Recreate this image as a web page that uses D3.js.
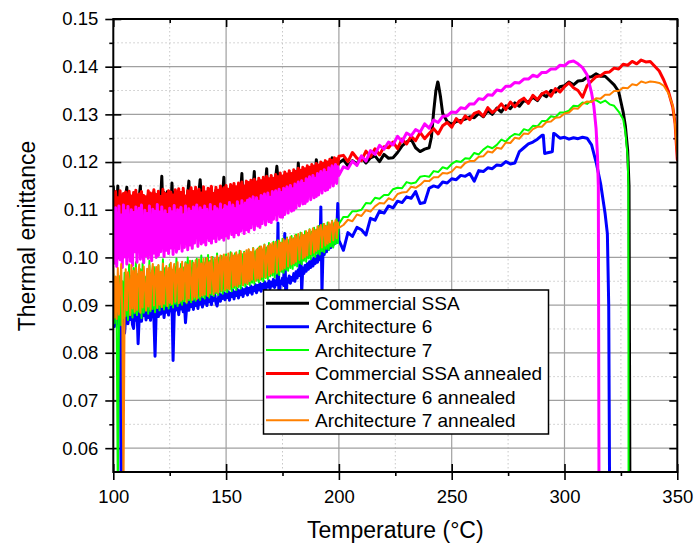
<!DOCTYPE html>
<html>
<head>
<meta charset="utf-8">
<script src="https://cdn.jsdelivr.net/npm/d3@7"></script>
<style>
  body { margin: 0; background: #fff; }
  svg { display: block; font-family: "Liberation Sans", Arial, sans-serif; }
</style>
</head>
<body>
<svg id="chart" width="694" height="547"></svg>
<script>
// ---- measurement grids (°C) ----
const tempsFine = d3.range(201).map(i => 100 + i * 0.5); // 0.5 °C steps, 100–200
const tempsCoarse = d3.range(202, 349, 2);                // 2 °C steps, 202–348

// ---- axis ticks ----
const xMajor = [100, 150, 200, 250, 300, 350];
const xMinor = [125, 175, 225, 275, 325];
const yMajor = [0.06, 0.07, 0.08, 0.09, 0.10, 0.11, 0.12, 0.13, 0.14, 0.15];
const yMinor = [0.065, 0.075, 0.085, 0.095, 0.105, 0.115, 0.125, 0.135, 0.145];
const xTickLabels = ["100", "150", "200", "250", "300", "350"];
const yTickLabels = ["0.06", "0.07", "0.08", "0.09", "0.10", "0.11", "0.12", "0.13", "0.14", "0.15"];

// ---- Commercial SSA ----
const ssaFine = [
  .1148,.1085,.1130,.1092,.1150,.1081,.1133,.1098,.1087,.1128,
  .1092,.1130,.1147,.1084,.1132,.1090,.1125,.1083,.1130,.1095,
  .1134,.1088,.1120,.1128,.1150,.1085,.1095,.1125,.1084,.1122,
  .1090,.1133,.1097,.1129,.1087,.1120,.1136,.1089,.1127,.1094,
  .1133,.1088,.1124,.1170,.1096,.1136,.1087,.1128,.1138,.1092,
  .1130,.1095,.1156,.1101,.1125,.1138,.1096,.1121,.1137,.1092,
  .1131,.1094,.1138,.1102,.1125,.1090,.1135,.1160,.1098,.1140,
  .1096,.1133,.1104,.1140,.1093,.1127,.1137,.1163,.1130,.1097,
  .1141,.1102,.1132,.1096,.1139,.1107,.1134,.1143,.1099,.1130,
  .1104,.1141,.1097,.1136,.1110,.1144,.1101,.1134,.1168,.1106,
  .1145,.1101,.1138,.1112,.1147,.1105,.1136,.1149,.1109,.1143,
  .1114,.1150,.1107,.1142,.1176,.1112,.1145,.1117,.1154,.1109,
  .1151,.1116,.1156,.1112,.1148,.1180,.1120,.1153,.1114,.1160,
  .1121,.1156,.1118,.1163,.1125,.1155,.1186,.1121,.1160,.1127,
  .1166,.1124,.1161,.1131,.1168,.1191,.1164,.1134,.1171,.1130,
  .1166,.1137,.1173,.1133,.1170,.1141,.1176,.1139,.1171,.1145,
  .1178,.1143,.1175,.1150,.1198,.1148,.1178,.1155,.1183,.1153,
  .1181,.1160,.1186,.1158,.1184,.1165,.1189,.1163,.1186,.1170,
  .1205,.1168,.1189,.1175,.1195,.1173,.1192,.1180,.1198,.1179,
  .1195,.1185,.1201,.1184,.1209,.1190,.1204,.1189,.1202,.1194,
  .1198];
const ssaCoarse = [
  .1205,.1192,.1203,.1196,.1211,.1198,.1209,.1213,.1201,.1216,
  .1208,.1209,.1220,.1234,.1242,.1248,.1230,.1222,.1227,.1230,
  .1305,.1366,.1302,.1285,.1279,.1285,.1287,.1290,.1295,.1293,
  .1302,.1295,.1308,.1300,.1313,.1305,.1318,.1312,.1324,.1317,
  .1329,.1326,.1336,.1329,.1343,.1337,.1350,.1347,.1358,.1360,
  .1368,.1362,.1370,.1371,.1378,.1379,.1385,.1380,.1380,.1371,
  .1362,.1348,.1305,.1225];
const ssaExtra = [[241, .1252], [243, .1350], [243.8, .1368], [245, .1338],
  [327, .1275], [328.6, .1150], [329, .050]];

// ---- Architecture 6 ----
const arch6Fine = [
  .0888,.0855,.0880,.0862,.0891,.0852,.0878,.0500,.0858,.0884,
  .0841,.0876,.0890,.0861,.0885,.0870,.0893,.0859,.0851,.0887,
  .0868,.0892,.0819,.0875,.0895,.0866,.0889,.0878,.0897,.0869,
  .0893,.0874,.0899,.0868,.0886,.0896,.0872,.0793,.0883,.0898,
  .0876,.0900,.0881,.0894,.0902,.0874,.0897,.0885,.0903,.0879,
  .0899,.0888,.0905,.0784,.0882,.0901,.0890,.0906,.0880,.0903,
  .0892,.0908,.0886,.0904,.0863,.0895,.0910,.0889,.0907,.0897,
  .0912,.0891,.0909,.0899,.0914,.0893,.0911,.0902,.0916,.0896,
  .0913,.0904,.0918,.0899,.0915,.0907,.0920,.0901,.0917,.0910,
  .0922,.0905,.0898,.0912,.0924,.0908,.0921,.0914,.0926,.0911,
  .0923,.0916,.0928,.0910,.0925,.0918,.0931,.0913,.0927,.0920,
  .0933,.0915,.0930,.0922,.0935,.0918,.0932,.0925,.0938,.0921,
  .0935,.0927,.0940,.0923,.0937,.0930,.0943,.0926,.0941,.0932,
  .0946,.0929,.0943,.0935,.0949,.0932,.0945,.0938,.0951,.0935,
  .0948,.0940,.0954,.0937,.0951,.0943,.1072,.0880,.0950,.0945,
  .0957,.0941,.1050,.0890,.0955,.0948,.0961,.0946,.0958,.0952,
  .0966,.0950,.0970,.0957,.0974,.0962,.1036,.0925,.0978,.0966,
  .0983,.0971,.0987,.0975,.0991,.0979,.0995,.0982,.0999,.0987,
  .1003,.0990,.1008,.0995,.1106,.0925,.1022,.1006,.1027,.1012,
  .1031,.1017,.1036,.1021,.1040,.1026,.1044,.1030,.1048,.1113,
  .1036];
const arch6Coarse = [
  .1015,.1052,.1044,.1063,.1058,.1047,.1082,.1078,.1097,.1093,
  .1108,.1104,.1118,.1115,.1127,.1124,.1138,.1113,.1115,.1145,
  .1150,.1147,.1158,.1156,.1165,.1163,.1172,.1170,.1176,.1160,
  .1182,.1180,.1188,.1186,.1194,.1193,.1201,.1196,.1198,.1222,
  .1230,.1238,.1242,.1248,.1256,.1219,.1221,.1258,.1250,.1252,
  .1248,.1251,.1249,.1252,.1250,.1236,.1200,.1155,.1092];
const arch6Extra = [[290.6, .1256], [291.2, .1218], [294.6, .1222], [295.2, .1260],
  [319, .1050], [319.6, .0900], [320, .050]];

// ---- Architecture 7 ----
const arch7Fine = [
  .0965,.0862,.0958,.0866,.0500,.0870,.0961,.0858,.0950,.0873,
  .0968,.0877,.0954,.0869,.0985,.0880,.0962,.0874,.0978,.0883,
  .0990,.0879,.0965,.0886,.0975,.0873,.0988,.0884,.0960,.0890,
  .0972,.0882,.0993,.0887,.0968,.0892,.0980,.0885,.0975,.0894,
  .0983,.0889,.0970,.0896,.0996,.0891,.0978,.0898,.0965,.0893,
  .0985,.0900,.0974,.0895,.0981,.0903,.0998,.0898,.0972,.0905,
  .0986,.0901,.0979,.0908,.0990,.0904,.1000,.0910,.0982,.0906,
  .0993,.0912,.0984,.0909,.0997,.0915,.0987,.0911,.1004,.0917,
  .0990,.0914,.0998,.0920,.1005,.0916,.0993,.0922,.1001,.0919,
  .0995,.0925,.1008,.0921,.0999,.0928,.1003,.0924,.0997,.0930,
  .1006,.0927,.1000,.0933,.1011,.0929,.1004,.0936,.1009,.0932,
  .1002,.0938,.1014,.0935,.1007,.0941,.1012,.0939,.1005,.0944,
  .1016,.0942,.1010,.0947,.1020,.0945,.1013,.0951,.1018,.0948,
  .1023,.0953,.1016,.0950,.1027,.0957,.1021,.0955,.1030,.0960,
  .1025,.0962,.1033,.0958,.1028,.0966,.1036,.0963,.1031,.0970,
  .1039,.0968,.1034,.0974,.1042,.0972,.1037,.0978,.1045,.0976,
  .1040,.0983,.1048,.0981,.1044,.0988,.1052,.0986,.1047,.0993,
  .1055,.0991,.1051,.0998,.1059,.0996,.1054,.1003,.1062,.1001,
  .1058,.1008,.1066,.1006,.1062,.1013,.1070,.1011,.1066,.1018,
  .1073,.1016,.1069,.1023,.1077,.1021,.1072,.1028,.1080,.1030,
  .1070];
const arch7Coarse = [
  .1085,.1085,.1097,.1097,.1100,.1114,.1113,.1125,.1123,.1131,
  .1131,.1143,.1146,.1145,.1158,.1155,.1157,.1169,.1171,.1169,
  .1181,.1179,.1189,.1186,.1196,.1202,.1200,.1208,.1207,.1219,
  .1216,.1226,.1233,.1229,.1236,.1247,.1243,.1253,.1259,.1257,
  .1269,.1266,.1276,.1275,.1286,.1286,.1296,.1294,.1304,.1304,
  .1308,.1318,.1317,.1325,.1322,.1329,.1330,.1324,.1329,.1321,
  .1318,.1306,.1290,.1210];
const arch7Extra = [[327, .1262], [328.3, .1150], [328.4, .050]];

// ---- Commercial SSA annealed ----
const ssaAnnFine = [
  .1131,.1082,.1138,.1090,.1125,.1079,.1140,.1101,.1085,.1134,
  .1094,.1137,.1081,.1120,.1139,.1088,.1129,.1080,.1136,.1097,
  .1141,.1085,.1124,.1133,.1083,.1138,.1092,.1130,.1081,.1127,
  .1089,.1140,.1098,.1135,.1084,.1123,.1142,.1087,.1132,.1093,
  .1139,.1086,.1128,.1095,.1143,.1090,.1134,.1083,.1126,.1140,
  .1088,.1137,.1099,.1131,.1085,.1142,.1093,.1125,.1144,.1089,
  .1136,.1091,.1145,.1100,.1129,.1087,.1140,.1096,.1133,.1146,
  .1092,.1138,.1102,.1147,.1090,.1131,.1143,.1098,.1135,.1094,
  .1148,.1100,.1137,.1093,.1145,.1105,.1139,.1149,.1096,.1134,
  .1102,.1147,.1094,.1141,.1108,.1150,.1099,.1138,.1146,.1104,
  .1151,.1098,.1143,.1110,.1153,.1102,.1140,.1155,.1107,.1148,
  .1112,.1156,.1104,.1146,.1158,.1109,.1150,.1115,.1160,.1106,
  .1157,.1113,.1162,.1108,.1153,.1164,.1117,.1158,.1111,.1166,
  .1119,.1161,.1115,.1168,.1122,.1159,.1170,.1118,.1165,.1125,
  .1172,.1121,.1166,.1128,.1174,.1124,.1169,.1131,.1177,.1127,
  .1171,.1134,.1179,.1130,.1175,.1138,.1182,.1136,.1176,.1142,
  .1184,.1140,.1180,.1147,.1187,.1145,.1183,.1152,.1189,.1150,
  .1186,.1157,.1192,.1155,.1189,.1162,.1195,.1160,.1191,.1167,
  .1197,.1165,.1194,.1172,.1200,.1170,.1197,.1177,.1203,.1176,
  .1200,.1182,.1206,.1181,.1204,.1187,.1209,.1186,.1207,.1192,
  .1212];
const ssaAnnCoarse = [
  .1214,.1201,.1220,.1208,.1203,.1223,.1211,.1228,.1215,.1232,
  .1230,.1242,.1228,.1248,.1238,.1254,.1245,.1262,.1249,.1260,
  .1270,.1259,.1276,.1283,.1273,.1291,.1282,.1297,.1289,.1302,
  .1306,.1296,.1314,.1304,.1311,.1322,.1310,.1326,.1316,.1328,
  .1334,.1323,.1340,.1331,.1343,.1348,.1338,.1354,.1347,.1358,
  .1366,.1356,.1350,.1336,.1360,.1370,.1379,.1381,.1388,.1389,
  .1397,.1395,.1405,.1403,.1411,.1406,.1414,.1410,.1411,.1401,
  .1391,.1372,.1349,.1315];
const ssaAnnExtra = [[349, .1282], [350, .1205]];

// ---- Architecture 6 annealed ----
const arch6AnnFine = [
  .1096,.0988,.1104,.0981,.1052,.1108,.0995,.1089,.0979,.1110,
  .1001,.1098,.0986,.1107,.1043,.0992,.1100,.0983,.1094,.1012,
  .1106,.0990,.1085,.1103,.0996,.1110,.1024,.0989,.1099,.1004,
  .1092,.0998,.1108,.1035,.0993,.1101,.1009,.1097,.1000,.1111,
  .1004,.1095,.1012,.1106,.1060,.1002,.1098,.1015,.1090,.1008,
  .1103,.1020,.1096,.1006,.1109,.1047,.1011,.1100,.1018,.1093,
  .1105,.1013,.1089,.1021,.1108,.1058,.1016,.1102,.1026,.1097,
  .1019,.1106,.1030,.1094,.1110,.1023,.1070,.1104,.1028,.1099,
  .1032,.1108,.1026,.1101,.1065,.1035,.1111,.1030,.1096,.1040,
  .1107,.1033,.1102,.1080,.1038,.1112,.1042,.1099,.1036,.1109,
  .1045,.1106,.1040,.1115,.1083,.1048,.1110,.1043,.1102,.1052,
  .1117,.1047,.1108,.1055,.1119,.1090,.1050,.1114,.1058,.1120,
  .1054,.1123,.1062,.1110,.1127,.1058,.1098,.1125,.1066,.1118,
  .1063,.1130,.1071,.1122,.1133,.1068,.1110,.1135,.1075,.1126,
  .1073,.1138,.1080,.1131,.1140,.1078,.1120,.1143,.1085,.1136,
  .1084,.1145,.1090,.1138,.1148,.1093,.1128,.1151,.1097,.1144,
  .1099,.1154,.1104,.1146,.1158,.1108,.1140,.1161,.1112,.1155,
  .1113,.1165,.1118,.1157,.1169,.1121,.1152,.1172,.1125,.1166,
  .1128,.1176,.1131,.1168,.1180,.1135,.1163,.1184,.1140,.1178,
  .1142,.1188,.1147,.1179,.1192,.1150,.1175,.1195,.1155,.1190,
  .1172];
const arch6AnnCoarse = [
  .1190,.1186,.1202,.1193,.1213,.1202,.1224,.1216,.1235,.1227,
  .1242,.1236,.1254,.1243,.1261,.1255,.1268,.1263,.1280,.1271,
  .1288,.1283,.1296,.1297,.1305,.1304,.1314,.1312,.1322,.1322,
  .1333,.1331,.1341,.1340,.1351,.1349,.1359,.1359,.1367,.1366,
  .1374,.1374,.1382,.1379,.1388,.1388,.1395,.1395,.1403,.1402,
  .1410,.1412,.1406,.1398,.1383,.1345,.1270];
const arch6AnnExtra = [[313, .1318], [314.6, .1215], [315, .1150], [315.3, .050]];

// ---- Architecture 7 annealed ----
const arch7AnnFine = [
  .0982,.0874,.0960,.0871,.0978,.0880,.0935,.0986,.0877,.0500,
  .0883,.0975,.0889,.0969,.0950,.0879,.0984,.0893,.0972,.0886,
  .0978,.0890,.0962,.0985,.0884,.0970,.0895,.0981,.0940,.0888,
  .0976,.0897,.0983,.0891,.0966,.0986,.0899,.0958,.0980,.0894,
  .0984,.0901,.0970,.0896,.0987,.0903,.0955,.0982,.0898,.0978,
  .0905,.0989,.0902,.0973,.0986,.0907,.0962,.0990,.0904,.0977,
  .0909,.0991,.0912,.0968,.0988,.0906,.0985,.0914,.0993,.0950,
  .0911,.0989,.0917,.0994,.0913,.0975,.0996,.0918,.0987,.0920,
  .0997,.0922,.0982,.0999,.0919,.0990,.0925,.1001,.0960,.0923,
  .0998,.0928,.1003,.0926,.0985,.1004,.0930,.0995,.1006,.0932,
  .1002,.0935,.1008,.0933,.0990,.1009,.0938,.1004,.0941,.1011,
  .0939,.1006,.0944,.1013,.0975,.0942,.1010,.0947,.1015,.0945,
  .1017,.0950,.1012,.0953,.1019,.0985,.0951,.1016,.0956,.1021,
  .0954,.1023,.0959,.1018,.1026,.0958,.1000,.1024,.0962,.1028,
  .0966,.1030,.0969,.1025,.1033,.0968,.1015,.1035,.0972,.1031,
  .0975,.1038,.0978,.1034,.1040,.0981,.1025,.1043,.0985,.1039,
  .0988,.1046,.0991,.1042,.1049,.0995,.1035,.1051,.0998,.1047,
  .1001,.1055,.1004,.1050,.1058,.1007,.1045,.1061,.1010,.1057,
  .1014,.1065,.1017,.1060,.1068,.1021,.1055,.1070,.1025,.1066,
  .1029,.1073,.1032,.1068,.1076,.1036,.1062,.1078,.1040,.1074,
  .1062];
const arch7AnnCoarse = [
  .1068,.1079,.1076,.1090,.1087,.1099,.1096,.1107,.1114,.1113,
  .1124,.1120,.1133,.1136,.1137,.1148,.1146,.1152,.1161,.1160,
  .1168,.1168,.1177,.1176,.1180,.1190,.1188,.1198,.1202,.1202,
  .1211,.1212,.1222,.1220,.1230,.1228,.1241,.1240,.1251,.1249,
  .1260,.1259,.1269,.1274,.1274,.1284,.1285,.1293,.1294,.1302,
  .1304,.1313,.1312,.1322,.1327,.1326,.1334,.1333,.1341,.1341,
  .1349,.1349,.1356,.1355,.1363,.1361,.1369,.1366,.1369,.1368,
  .1366,.1360,.1345,.1318];
const arch7AnnExtra = [[349, .1278], [350, .1212]];

// ---- legend entries (drawing order) ----
const seriesNames = ["Commercial SSA", "Architecture 6", "Architecture 7",
  "Commercial SSA annealed", "Architecture 6 annealed", "Architecture 7 annealed"];
const seriesColors = ["#000000", "#0000ff", "#00ff00", "#ff0000", "#ff00ff", "#ff8000"];
const seriesWidths = [3, 3, 2, 3, 3, 2];

function assemble(fine, coarse, extra) {
  const pts = fine.map((v, i) => [tempsFine[i], v])
    .concat(coarse.map((v, i) => [tempsCoarse[i], v]))
    .concat(extra);
  return pts.sort((a, b) => a[0] - b[0]);
}

const series = [
  assemble(ssaFine, ssaCoarse, ssaExtra),
  assemble(arch6Fine, arch6Coarse, arch6Extra),
  assemble(arch7Fine, arch7Coarse, arch7Extra),
  assemble(ssaAnnFine, ssaAnnCoarse, ssaAnnExtra),
  assemble(arch6AnnFine, arch6AnnCoarse, arch6AnnExtra),
  assemble(arch7AnnFine, arch7AnnCoarse, arch7AnnExtra)
];

// ---- layout ----
const plot = { left: 113.3, right: 677.3, top: 19, bottom: 472 };
const x = d3.scaleLinear().domain([100, 350]).range([plot.left, plot.right]);
const y = d3.scaleLinear().domain([0.055, 0.15]).range([plot.bottom, plot.top]);

const svg = d3.select("#chart");

svg.append("defs").append("clipPath").attr("id", "plotClip")
  .append("rect")
  .attr("x", plot.left).attr("y", plot.top)
  .attr("width", plot.right - plot.left).attr("height", plot.bottom - plot.top);

// grid: dotted minor, solid major
const grid = svg.append("g");
grid.selectAll("line.vmin").data(xMinor).join("line")
  .attr("x1", d => x(d)).attr("x2", d => x(d))
  .attr("y1", plot.top).attr("y2", plot.bottom)
  .attr("stroke", "#c8c8c8").attr("stroke-width", 1).attr("stroke-dasharray", "1.5,2.5");
grid.selectAll("line.hmin").data(yMinor).join("line")
  .attr("x1", plot.left).attr("x2", plot.right)
  .attr("y1", d => y(d)).attr("y2", d => y(d))
  .attr("stroke", "#c8c8c8").attr("stroke-width", 1).attr("stroke-dasharray", "1.5,2.5");
grid.selectAll("line.vmaj").data(xMajor.slice(1, -1)).join("line")
  .attr("x1", d => x(d)).attr("x2", d => x(d))
  .attr("y1", plot.top).attr("y2", plot.bottom)
  .attr("stroke", "#a0a0a0").attr("stroke-width", 1.2);
grid.selectAll("line.hmaj").data(yMajor.slice(0, -1)).join("line")
  .attr("x1", plot.left).attr("x2", plot.right)
  .attr("y1", d => y(d)).attr("y2", d => y(d))
  .attr("stroke", "#a0a0a0").attr("stroke-width", 1.2);

// axes
const tickFont = "18.5px";
const bottomAxis = svg.append("g").attr("transform", `translate(0,${plot.bottom})`)
  .call(d3.axisBottom(x).tickValues(xMajor).tickFormat((d, i) => xTickLabels[i])
    .tickSize(8).tickSizeOuter(0).tickPadding(9.5));
bottomAxis.selectAll(".tick line").attr("y1", -8).attr("stroke-width", 1.6);
bottomAxis.append("g").call(d3.axisBottom(x).tickValues(xMinor).tickFormat("").tickSize(4).tickSizeOuter(0))
  .selectAll(".tick line").attr("stroke-width", 1.6);

const leftAxis = svg.append("g").attr("transform", `translate(${plot.left},0)`)
  .call(d3.axisLeft(y).tickValues(yMajor).tickFormat((d, i) => yTickLabels[i])
    .tickSize(8).tickSizeOuter(0).tickPadding(7));
leftAxis.selectAll(".tick line").attr("x1", 8).attr("stroke-width", 1.6);
leftAxis.append("g").call(d3.axisLeft(y).tickValues(yMinor).tickFormat("").tickSize(4).tickSizeOuter(0))
  .selectAll(".tick line").attr("stroke-width", 1.6);

const topAxis = svg.append("g").attr("transform", `translate(0,${plot.top})`)
  .call(d3.axisBottom(x).tickValues(xMajor).tickFormat("").tickSize(8).tickSizeOuter(0));
topAxis.append("g").call(d3.axisBottom(x).tickValues(xMinor).tickFormat("").tickSize(4).tickSizeOuter(0));
topAxis.selectAll(".tick line").attr("stroke-width", 1.6);

const rightAxis = svg.append("g").attr("transform", `translate(${plot.right},0)`)
  .call(d3.axisLeft(y).tickValues(yMajor).tickFormat("").tickSize(8).tickSizeOuter(0));
rightAxis.append("g").call(d3.axisLeft(y).tickValues(yMinor).tickFormat("").tickSize(4).tickSizeOuter(0));
rightAxis.selectAll(".tick line").attr("stroke-width", 1.6);

svg.selectAll(".domain").remove();
svg.selectAll(".tick text").attr("font-size", tickFont)
  .attr("font-family", "'Liberation Sans', Arial, sans-serif").attr("fill", "#000");

// data curves
const line = d3.line().x(d => x(d[0])).y(d => y(d[1]));
svg.append("g").attr("clip-path", "url(#plotClip)")
  .selectAll("path").data(series).join("path")
  .attr("d", line)
  .attr("fill", "none")
  .attr("stroke", (d, i) => seriesColors[i])
  .attr("stroke-width", (d, i) => seriesWidths[i])
  .attr("stroke-linejoin", "round")
  .attr("stroke-linecap", "round");

// frame
svg.append("rect")
  .attr("x", plot.left).attr("y", plot.top)
  .attr("width", plot.right - plot.left).attr("height", plot.bottom - plot.top)
  .attr("fill", "none").attr("stroke", "#000").attr("stroke-width", 2);

// axis titles
svg.append("text")
  .attr("x", (plot.left + plot.right) / 2).attr("y", 538)
  .attr("text-anchor", "middle").attr("font-size", "23px").attr("fill", "#000")
  .text("Temperature (°C)");
svg.append("text")
  .attr("transform", "translate(35,236) rotate(-90)")
  .attr("text-anchor", "middle").attr("font-size", "23px").attr("fill", "#000")
  .text("Thermal emittance");

// legend
const legend = svg.append("g");
legend.append("rect")
  .attr("x", 263.5).attr("y", 290).attr("width", 285).attr("height", 144)
  .attr("fill", "#fff").attr("stroke", "#000").attr("stroke-width", 1.5);
const rows = legend.selectAll("g.row").data(seriesNames).join("g")
  .attr("transform", (d, i) => `translate(0,${303.3 + i * 23.4})`);
rows.append("line")
  .attr("x1", 266).attr("x2", 309).attr("y1", 0).attr("y2", 0)
  .attr("stroke", (d, i) => seriesColors[i])
  .attr("stroke-width", (d, i) => seriesWidths[i]);
rows.append("text")
  .attr("x", 315).attr("y", 0).attr("dy", "0.35em")
  .attr("font-size", "19px").attr("fill", "#000")
  .text(d => d);
</script>
</body>
</html>
